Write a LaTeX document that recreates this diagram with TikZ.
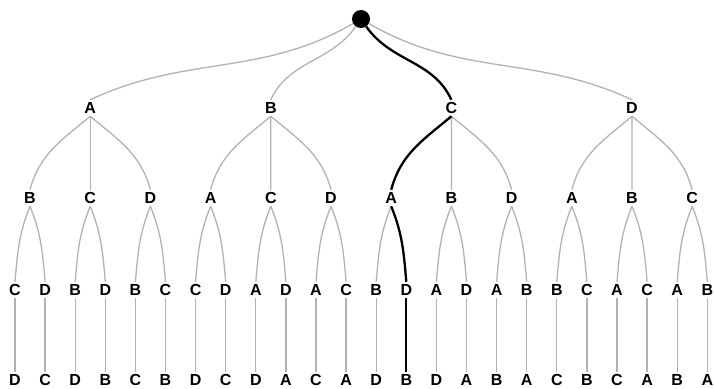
\documentclass[tikz,border=0pt]{standalone}
\usepackage{fontspec}
\setmainfont{Liberation Sans}

\begin{document}
\begin{tikzpicture}[x=1pt,y=1pt,
  lbl/.style={font=\fontsize{16}{16}\selectfont\bfseries, inner sep=2.5pt, outer sep=0pt, text height=11.5pt, text depth=0pt},
  edge/.style={draw=gray!60, line width=1.3pt},
  hot/.style={draw=black, line width=2.3pt}]
\useasboundingbox (0,0) rectangle (714,-388);

% Root
\node[circle, fill=black, inner sep=0pt, minimum size=18pt] (r) at (361,-19) {};

% Level 1
\node[lbl] (a1) at (90.2,-108) {A};
\node[lbl] (a2) at (270.8,-108) {B};
\node[lbl] (a3) at (451.4,-108) {C};
\node[lbl] (a4) at (632,-108) {D};

% Level 2
\foreach \n [count=\i from 0] in {B,C,D,A,C,D,A,B,D,A,B,C}
  \node[lbl] (b\i) at (30+60.2*\i,-198) {\n};

% Level 3
\foreach \n [count=\i from 0] in {C,D,B,D,B,C,C,D,A,D,A,C,B,D,A,D,A,B,B,C,A,C,A,B}
  \node[lbl] (c\i) at (15+30.1*\i,-290) {\n};

% Level 4
\foreach \n [count=\i from 0] in {D,C,D,B,C,B,D,C,D,A,C,A,D,B,D,A,B,A,C,B,C,A,B,A}
  \node[lbl] (d\i) at (15+30.1*\i,-380) {\n};

% Root edges
\draw[edge] (r) to[out=-150,in=25] (a1.north);
\draw[edge] (r) to[out=-125,in=65] (a2.north);
\draw[edge] (r) to[out=-30,in=155] (a4.north);

% Level 1 -> level 2
\foreach \p [evaluate=\p as \l using int(3*\p-3),
             evaluate=\p as \m using int(3*\p-2),
             evaluate=\p as \r using int(3*\p-1)] in {1,...,4} {
  \draw[edge] (a\p.south) to[out=-140,in=75] (b\l.north);
  \draw[edge] (a\p.south) -- (b\m.north);
  \draw[edge] (a\p.south) to[out=-40,in=105] (b\r.north);
}

% Level 2 -> level 3
\foreach \j [evaluate=\j as \l using int(2*\j),
             evaluate=\j as \r using int(2*\j+1)] in {0,...,11} {
  \draw[edge] (b\j.south) to[out=-112,in=85] (c\l.north);
  \draw[edge] (b\j.south) to[out=-68,in=95] (c\r.north);
}

% Level 3 -> level 4
\foreach \k in {0,...,23}
  \draw[edge] (c\k.south) -- (d\k.north);

% Highlighted path
\draw[hot] (r) to[out=-55,in=115] (a3.north);
\draw[hot] (a3.south) to[out=-140,in=75] (b6.north);
\draw[hot] (b6.south) to[out=-68,in=95] (c13.north);
\draw[hot] (c13.south) -- (d13.north);
\end{tikzpicture}
\end{document}
